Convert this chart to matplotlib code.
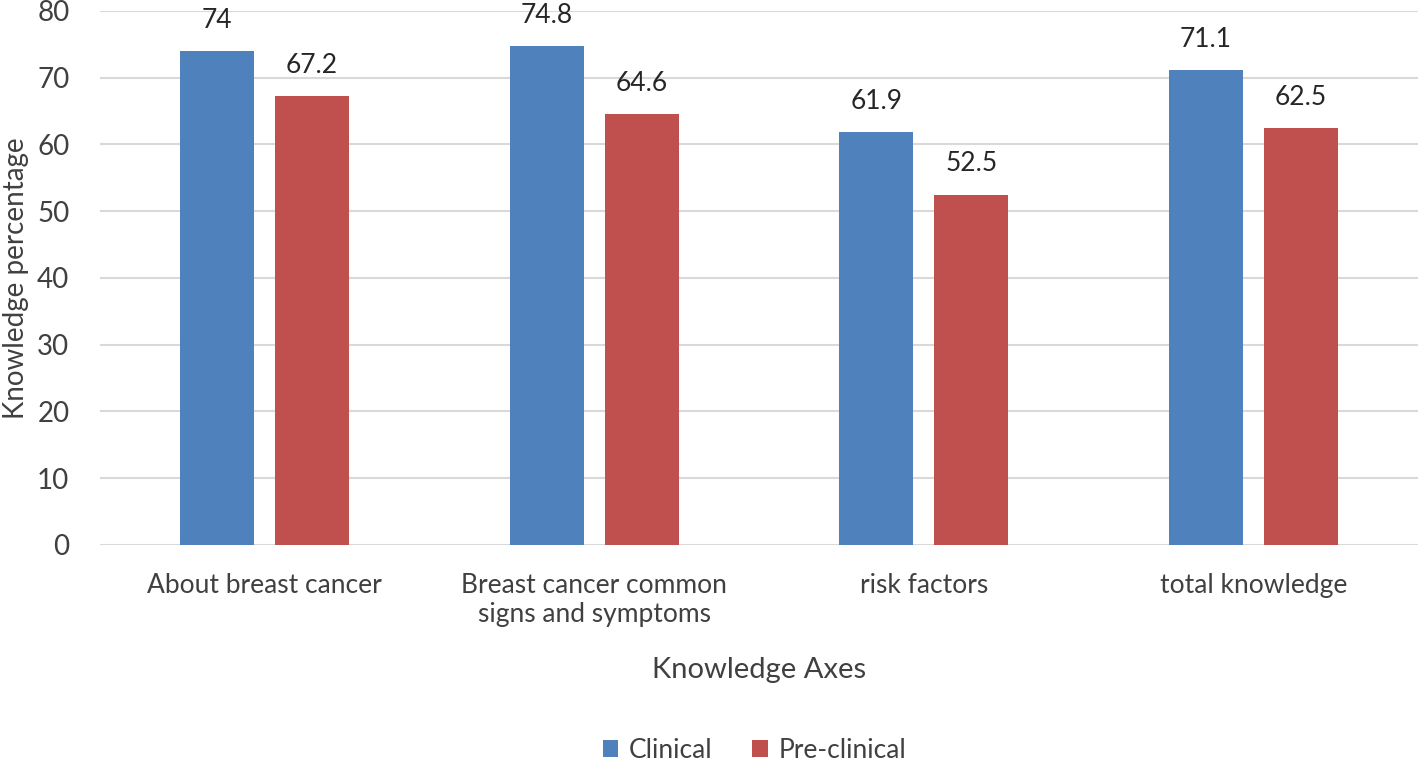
import numpy as np
import matplotlib
matplotlib.use("Agg")
import matplotlib.pyplot as plt

plt.rcParams["font.family"] = ["Lato", "DejaVu Sans"]

categories = ["About breast cancer", "Breast cancer common\nsigns and symptoms",
              "risk factors", "total knowledge"]
clinical = [74, 74.8, 61.9, 71.1]
pre_clinical = [67.2, 64.6, 52.5, 62.5]
yticks = [0, 10, 20, 30, 40, 50, 60, 70, 80]

fig = plt.figure(figsize=(14.18, 7.62), dpi=100)
ax = fig.add_axes([0.0705, 0.2848, 0.9295, 0.7008])

x = np.arange(len(categories))
w = 0.224
off = 0.144
b1 = ax.bar(x - off, clinical, w, color="#4F81BD", label="Clinical", zorder=3)
b2 = ax.bar(x + off, pre_clinical, w, color="#C0504D", label="Pre-clinical", zorder=3)

for bars, vals in ((b1, clinical), (b2, pre_clinical)):
    for bar, v in zip(bars, vals):
        ax.annotate(f"{v:g}", (bar.get_x() + bar.get_width() / 2, bar.get_height()),
                    xytext=(0, 13), textcoords="offset points",
                    ha="center", va="bottom", fontsize=19, color="#262626")

ax.set_xlim(-0.5, 3.5)
ax.set_ylim(0, 80)
ax.set_yticks(yticks)
ax.set_xticks(x)
ax.set_xticklabels(categories, fontsize=19, color="#404040", linespacing=1.2)
ax.tick_params(axis="y", labelsize=20, labelcolor="#404040", length=0, pad=22)
ax.tick_params(axis="x", length=0, pad=20)
ax.grid(axis="y", color="#D9D9D9", linewidth=1.5, zorder=0)
for s in ax.spines.values():
    s.set_visible(False)

ax.set_ylabel("Knowledge percentage", fontsize=20, color="#404040")
ax.set_xlabel("Knowledge Axes", fontsize=21, color="#404040", labelpad=22)
ax.yaxis.set_label_coords(-0.054, 0.5)

fig.legend(handles=[b1, b2], loc="lower center", bbox_to_anchor=(0.532, -0.032),
           ncol=2, frameon=False, fontsize=19, handlelength=0.6, handleheight=0.6,
           handletextpad=0.4, columnspacing=1.5, labelcolor="#404040")

fig.savefig("out.png", dpi=100)
